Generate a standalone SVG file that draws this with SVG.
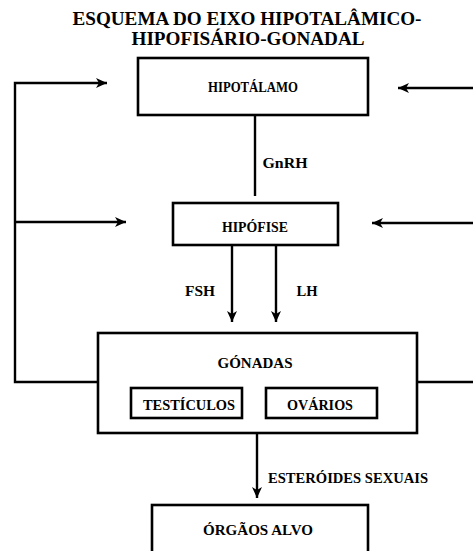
<svg xmlns="http://www.w3.org/2000/svg" width="473" height="551" viewBox="0 0 473 551">
<defs>
<marker id="ah" markerUnits="userSpaceOnUse" markerWidth="12" markerHeight="10" refX="11" refY="5" orient="auto">
<path d="M0,0 L11,5 L0,10 L3,5 Z" fill="#000"/>
</marker>
<style>
.box{fill:#fff;stroke:#000;stroke-width:2.6}
.ln{fill:none;stroke:#000;stroke-width:2.4}
.t{font-family:"Liberation Serif","Times New Roman",serif;font-weight:bold;fill:#000;text-anchor:middle}
.lb{font-size:14px}
.hl{font-size:15px}
.ttl{font-size:19px}
</style>
</defs>
<rect width="473" height="551" fill="#fff"/>
<g id="title">
<text class="t ttl" x="247" y="25" textLength="349" lengthAdjust="spacingAndGlyphs">ESQUEMA DO EIXO HIPOTALÂMICO-</text>
<text class="t ttl" x="248" y="45" textLength="233" lengthAdjust="spacingAndGlyphs">HIPOFISÁRIO-GONADAL</text>
</g>
<g id="connectors">
<path class="ln" d="M98,382 H15 V83 H107" marker-end="url(#ah)"/>
<path class="ln" d="M15,222 H126" marker-end="url(#ah)"/>
<path class="ln" d="M473,88 H398" marker-end="url(#ah)"/>
<path class="ln" d="M473,223 H372" marker-end="url(#ah)"/>
<path class="ln" d="M417,382 H473"/>
<path class="ln" d="M255,115 V196"/>
<path class="ln" d="M232,245 V322" marker-end="url(#ah)"/>
<path class="ln" d="M276,245 V322" marker-end="url(#ah)"/>
<path class="ln" d="M257,433 V498" marker-end="url(#ah)"/>
<text class="t hl" x="285" y="168" textLength="45" lengthAdjust="spacingAndGlyphs">GnRH</text>
<text class="t hl" x="200" y="296" textLength="30" lengthAdjust="spacingAndGlyphs">FSH</text>
<text class="t hl" x="307" y="296" textLength="21" lengthAdjust="spacingAndGlyphs">LH</text>
<text class="t lb" x="348" y="483" textLength="160" lengthAdjust="spacingAndGlyphs">ESTERÓIDES SEXUAIS</text>
</g>
<g id="hipotalamo">
<rect class="box" x="138" y="58" width="230" height="57"/>
<text class="t lb" x="253" y="92" textLength="90" lengthAdjust="spacingAndGlyphs">HIPOTÁLAMO</text>
</g>
<g id="hipofise">
<rect class="box" x="173" y="203" width="165" height="42"/>
<text class="t lb" x="255" y="232" textLength="66" lengthAdjust="spacingAndGlyphs">HIPÓFISE</text>
</g>
<g id="gonadas">
<rect class="box" x="98" y="333" width="319" height="100"/>
<text class="t lb" x="255" y="368" textLength="75" lengthAdjust="spacingAndGlyphs">GÓNADAS</text>
</g>
<g id="testiculos">
<rect class="box" x="131" y="388" width="111" height="30"/>
<text class="t lb" x="189" y="410" textLength="92" lengthAdjust="spacingAndGlyphs">TESTÍCULOS</text>
</g>
<g id="ovarios">
<rect class="box" x="266" y="388" width="111" height="30"/>
<text class="t lb" x="320" y="410" textLength="66" lengthAdjust="spacingAndGlyphs">OVÁRIOS</text>
</g>
<g id="orgaos-alvo">
<rect class="box" x="152" y="505" width="216" height="60"/>
<text class="t lb" x="258" y="535" textLength="110" lengthAdjust="spacingAndGlyphs">ÓRGÃOS ALVO</text>
</g>
</svg>
